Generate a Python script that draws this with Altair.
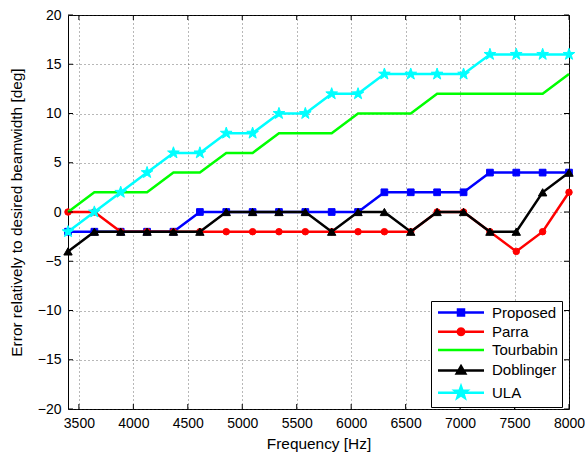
import altair as alt
import pandas as pd

# ---- data ----
FREQ = [3400, 3642, 3884, 4126, 4368, 4611, 4853, 5095, 5337, 5579,
        5821, 6063, 6305, 6547, 6789, 7032, 7274, 7516, 7758, 8000]
SERIES = ["Proposed", "Parra", "Tourbabin", "Doblinger", "ULA"]
PROPOSED = [-2, -2, -2, -2, -2, 0, 0, 0, 0, 0, 0, 0, 2, 2, 2, 2, 4, 4, 4, 4]
PARRA = [0, 0, -2, -2, -2, -2, -2, -2, -2, -2, -2, -2, -2, -2, 0, 0, -2, -4, -2, 2]
TOURBABIN = [0, 2, 2, 2, 4, 4, 6, 6, 8, 8, 8, 10, 10, 10, 12, 12, 12, 12, 12, 14]
DOBLINGER = [-4, -2, -2, -2, -2, -2, 0, 0, 0, 0, -2, 0, 0, -2, 0, 0, -2, -2, 2, 4]
ULA = [-2, 0, 2, 4, 6, 6, 8, 8, 10, 10, 12, 12, 14, 14, 14, 14, 16, 16, 16, 16]
XTICKS = [3500, 4000, 4500, 5000, 5500, 6000, 6500, 7000, 7500, 8000]
YTICKS = [-20, -15, -10, -5, 0, 5, 10, 15, 20]

# ---- styles ----
COLORS = ["#0000ff", "#ff0000", "#00ff00", "#000000", "#00ffff"]
STAR = ("M0,-1L0.235,-0.324L0.951,-0.309L0.38,0.124L0.588,0.809L0,0.4"
        "L-0.588,0.809L-0.38,0.124L-0.951,-0.309L-0.235,-0.324Z")
MARKERS = {
    "Proposed": ("square", 45),
    "Parra": ("circle", 42),
    "Doblinger": ("triangle-up", 70),
    "ULA": (STAR, 150),
}
LINE_SEG = "M-0.9,0H8.3"
LEGEND_PATHS = [
    LINE_SEG + "M3.1,-0.6H4.3V0.6H3.1Z",
    LINE_SEG + "M4.35,0L4.263,0.325L4.025,0.563L3.7,0.65L3.375,0.563L3.137,0.325"
               "L3.05,0L3.137,-0.325L3.375,-0.563L3.7,-0.65L4.025,-0.563L4.263,-0.325Z",
    LINE_SEG,
    LINE_SEG + "M3.7,-0.85L4.55,0.6L2.85,0.6Z",
    LINE_SEG + "M3.7,-1.25L3.994,-0.405L4.889,-0.386L4.175,0.155L4.435,1.011"
               "L3.7,0.5L2.965,1.011L3.225,0.155L2.511,-0.386L3.406,-0.405Z",
]

FONT = "Liberation Sans"
W, H = 501, 394

rows = []
for name, vals in zip(SERIES, [PROPOSED, PARRA, TOURBABIN, DOBLINGER, ULA]):
    for f, v in zip(FREQ, vals):
        rows.append({"Frequency": f, "Error": v, "Series": name})
df = pd.DataFrame(rows)

xscale = alt.Scale(domain=[3400, 8000], nice=False, zero=False)
yscale = alt.Scale(domain=[-20, 20], nice=False, zero=False)

XAXIS = alt.Axis(values=XTICKS, format="d", title="Frequency [Hz]",
                 grid=True, ticks=False, domain=False, labelFlush=False,
                 labelPadding=7, titlePadding=6)
YAXIS = alt.Axis(values=YTICKS, format="d",
                 title="Error relatively to desired beamwidth [deg]",
                 grid=True, ticks=False, domain=False, labelFlush=False,
                 labelPadding=7, titlePadding=13)


def X(field):
    return alt.X(field, scale=xscale, axis=XAXIS)


def Y(field):
    return alt.Y(field, scale=yscale, axis=YAXIS)


layers = []
for name, col in zip(SERIES, COLORS):
    base = alt.Chart(df).transform_filter(alt.datum.Series == name)
    layers.append(base.mark_line(strokeWidth=2.5, color=col).encode(
        x=X("Frequency:Q"), y=Y("Error:Q")))
    if name in MARKERS:
        shp, sz = MARKERS[name]
        layers.append(base.mark_point(shape=shp, size=sz, filled=True, fill=col,
                                      stroke=col, strokeWidth=1, opacity=1).encode(
            x=X("Frequency:Q"), y=Y("Error:Q")))

leg = alt.Legend(orient="none", legendX=363, legendY=286, title=None,
                 direction="vertical", columns=1, columnPadding=0,
                 padding=4, strokeColor="black", fillColor="white",
                 labelFont=FONT, labelFontSize=15, labelColor="black",
                 labelLimit=72,
                 symbolSize=100, symbolStrokeWidth=2.5, symbolOpacity=1,
                 labelOffset=42, rowPadding=2.3, cornerRadius=0)

legend_layer = alt.Chart(df).transform_filter("datum.Error > 1000").mark_point(
    filled=True, opacity=1).encode(
    x=X("Frequency:Q"), y=Y("Error:Q"),
    fill=alt.Fill("Series:N", scale=alt.Scale(domain=SERIES, range=COLORS), legend=leg),
    stroke=alt.Stroke("Series:N", scale=alt.Scale(domain=SERIES, range=COLORS), legend=leg),
    shape=alt.Shape("Series:N", scale=alt.Scale(domain=SERIES, range=LEGEND_PATHS), legend=leg),
)

xt = pd.DataFrame({"Frequency": XTICKS})
yt = pd.DataFrame({"Error": YTICKS})
tick_layers = [
    alt.Chart(xt).mark_rule(color="black", strokeWidth=1).encode(
        x=X("Frequency:Q"), y=alt.value(H), y2=alt.value(H - 5)),
    alt.Chart(xt).mark_rule(color="black", strokeWidth=1).encode(
        x=X("Frequency:Q"), y=alt.value(0), y2=alt.value(5)),
    alt.Chart(yt).mark_rule(color="black", strokeWidth=1).encode(
        y=Y("Error:Q"), x=alt.value(0), x2=alt.value(5)),
    alt.Chart(yt).mark_rule(color="black", strokeWidth=1).encode(
        y=Y("Error:Q"), x=alt.value(W), x2=alt.value(W - 5)),
]

chart = alt.layer(*layers, *tick_layers, legend_layer).properties(
    width=W, height=H,
    autosize=alt.AutoSizeParams(type="none"),
    padding={"left": 68, "top": 15, "right": 16, "bottom": 50},
    background="white",
).configure_view(
    stroke="black", strokeWidth=1
).configure_axis(
    labelFont=FONT, labelFontSize=14, labelColor="black",
    titleFont=FONT, titleFontSize=15.4, titleColor="black", titleFontWeight="normal",
    gridColor="#333333", gridDash=[1, 3], gridWidth=1, gridOpacity=0.7,
)

chart.save("out.html", embed_options={"renderer": "svg", "actions": False})
